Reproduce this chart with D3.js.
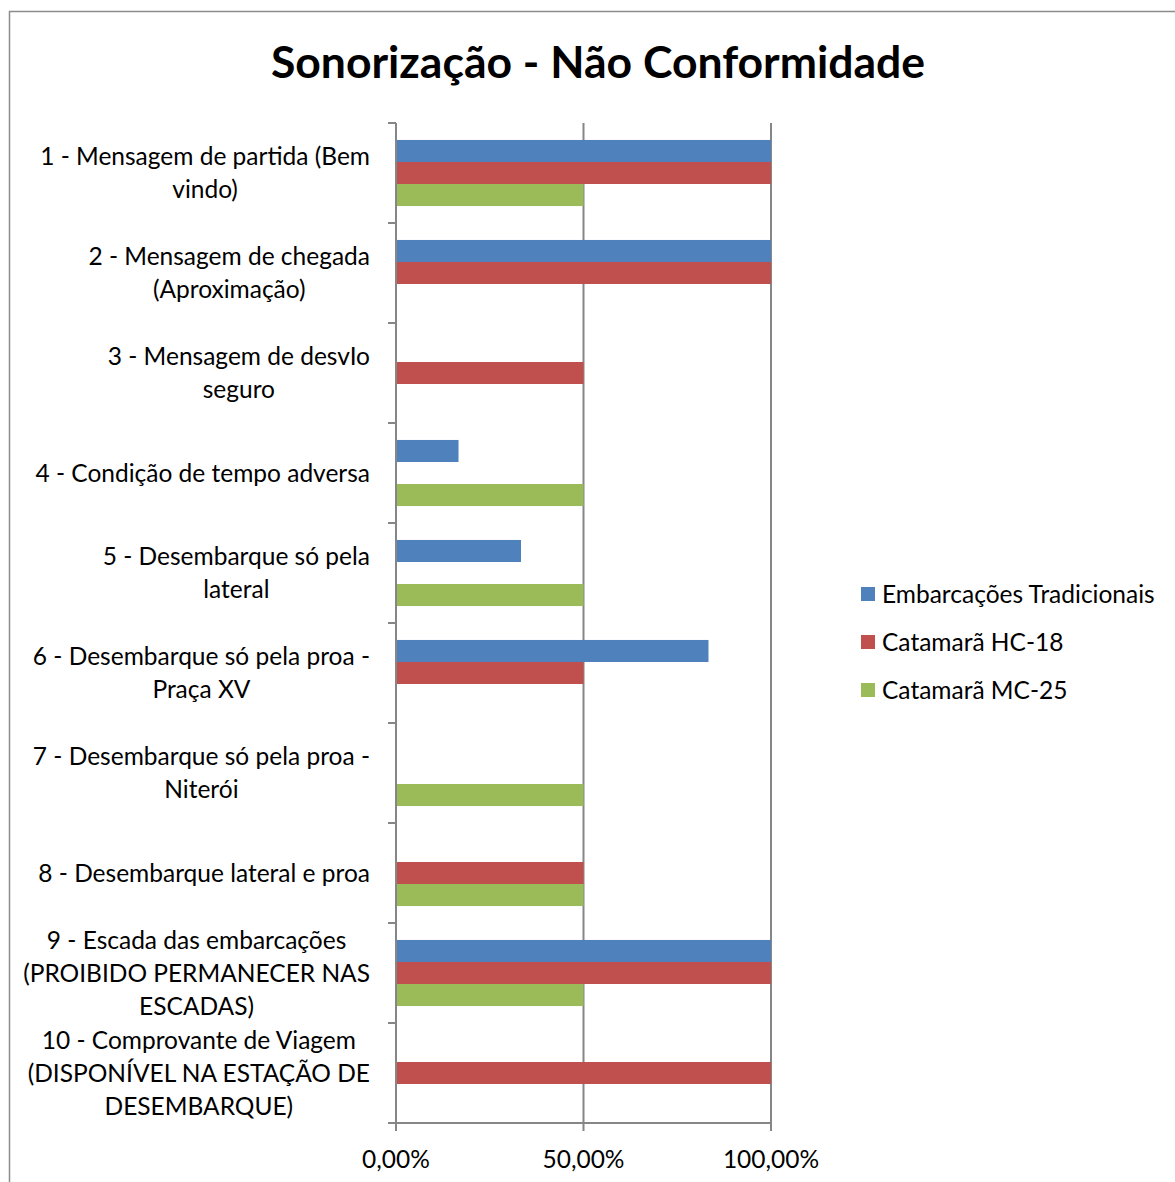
<!DOCTYPE html>
<html><head><meta charset="utf-8">
<script src="https://cdn.jsdelivr.net/npm/d3@7"></script>
<style>body{margin:0;background:#fff;} svg{display:block;} text{font-family:Lato,"Open Sans",sans-serif;fill:#000;}</style>
</head><body>
<svg id="c" width="1175" height="1182"></svg>
<script>
const categories = [
  ["1 - Mensagem de partida (Bem","vindo)"],
  ["2 - Mensagem de chegada","(Aproximação)"],
  ["3 - Mensagem de desvIo","seguro"],
  ["4 - Condição de tempo adversa"],
  ["5 - Desembarque só pela","lateral"],
  ["6 - Desembarque só pela proa -","Praça XV"],
  ["7 - Desembarque só pela proa -","Niterói"],
  ["8 - Desembarque lateral e proa"],
  ["9 - Escada das embarcações","(PROIBIDO PERMANECER NAS","ESCADAS)"],
  ["10 - Comprovante de Viagem","(DISPONÍVEL NA ESTAÇÃO DE","DESEMBARQUE)"]
];
const seriesNames = ["Embarcações Tradicionais","Catamarã HC-18","Catamarã MC-25"];
const tradicionais = [1, 1, 0, 0.1667, 0.3333, 0.8333, 0, 0, 1, 0];
const hc18 = [1, 1, 0.5, 0, 0, 0.5, 0, 0.5, 1, 1];
const mc25 = [0.5, 0, 0, 0.5, 0.5, 0, 0.5, 0.5, 0.5, 0];
const xTicks = [0, 0.5, 1];
const colors = ["#4F81BD","#C0504D","#9BBB59"];
const title = "Sonorização - Não Conformidade";

const svg = d3.select("#c");
const FS = 24.5;
// outer border
svg.append("rect").attr("x",9.5).attr("y",11.5).attr("width",1180).attr("height",1190)
  .attr("fill","none").attr("stroke","#8c8c8c").attr("stroke-width",1.5);

svg.append("text").attr("x",598).attr("y",78).attr("text-anchor","middle")
  .attr("font-size",44.5).attr("font-weight","bold").text(title);

const pL=396, pR=771, pT=123, pB=1123;
const x = d3.scaleLinear().domain([0,1]).range([pL,pR]);
const y = d3.scaleBand().domain(d3.range(categories.length)).range([pT,pB]);
const inner = d3.scaleBand().domain(d3.range(3)).range([0,y.bandwidth()]).paddingOuter(0.77).paddingInner(0);

const gridColor="#868686";
// gridlines
svg.append("g").selectAll("line").data(xTicks.slice(1)).join("line")
  .attr("x1",d=>x(d)).attr("x2",d=>x(d)).attr("y1",pT).attr("y2",pB+8)
  .attr("stroke",gridColor).attr("stroke-width",2);

const data = [tradicionais,hc18,mc25];
const g = svg.append("g");
data.forEach((vals,si)=>{
  g.append("g").selectAll("rect").data(vals).join("rect")
    .attr("x",pL).attr("y",(d,i)=>y(i)+inner(si))
    .attr("width",d=>x(d)-pL).attr("height",inner.bandwidth())
    .attr("fill",colors[si]);
});

// y axis
svg.append("line").attr("x1",pL).attr("x2",pL).attr("y1",pT).attr("y2",pB+8)
  .attr("stroke",gridColor).attr("stroke-width",2);
const bounds = d3.range(categories.length).map(i=>y(i)).concat([pB]);
svg.append("g").selectAll("line").data(bounds).join("line")
  .attr("x1",pL-8).attr("x2",pL).attr("y1",d=>d).attr("y2",d=>d)
  .attr("stroke",gridColor).attr("stroke-width",2);
// x axis
svg.append("line").attr("x1",pL).attr("x2",pR).attr("y1",pB).attr("y2",pB)
  .attr("stroke",gridColor).attr("stroke-width",2);
const fmt = d=> d3.format(".2f")(d*100).replace(".",",")+"%";
svg.append("g").selectAll("text").data(xTicks).join("text")
  .attr("x",d=>x(d)).attr("y",1168).attr("text-anchor","middle").attr("font-size",FS)
  .text(fmt);

// category labels
const lh=33;
categories.forEach((lines,i)=>{
  const cy = y(i)+y.bandwidth()/2;
  const gg = svg.append("g");
  const ts = lines.map((l,k)=>gg.append("text").attr("font-size",FS).attr("text-anchor","middle")
     .attr("y", cy + (k-(lines.length-1)/2)*lh + 8.5).text(l));
  const maxW = d3.max(ts, t=>t.node().getComputedTextLength());
  ts.forEach(t=>t.attr("x", 370-maxW/2));
});

// legend
seriesNames.forEach((n,i)=>{
  const cy = 594 + i*48;
  svg.append("rect").attr("x",861).attr("y",cy-7).attr("width",14).attr("height",14).attr("fill",colors[i]);
  svg.append("text").attr("x",882).attr("y",cy+8.5).attr("font-size",FS).text(n);
});
</script>
</body></html>
